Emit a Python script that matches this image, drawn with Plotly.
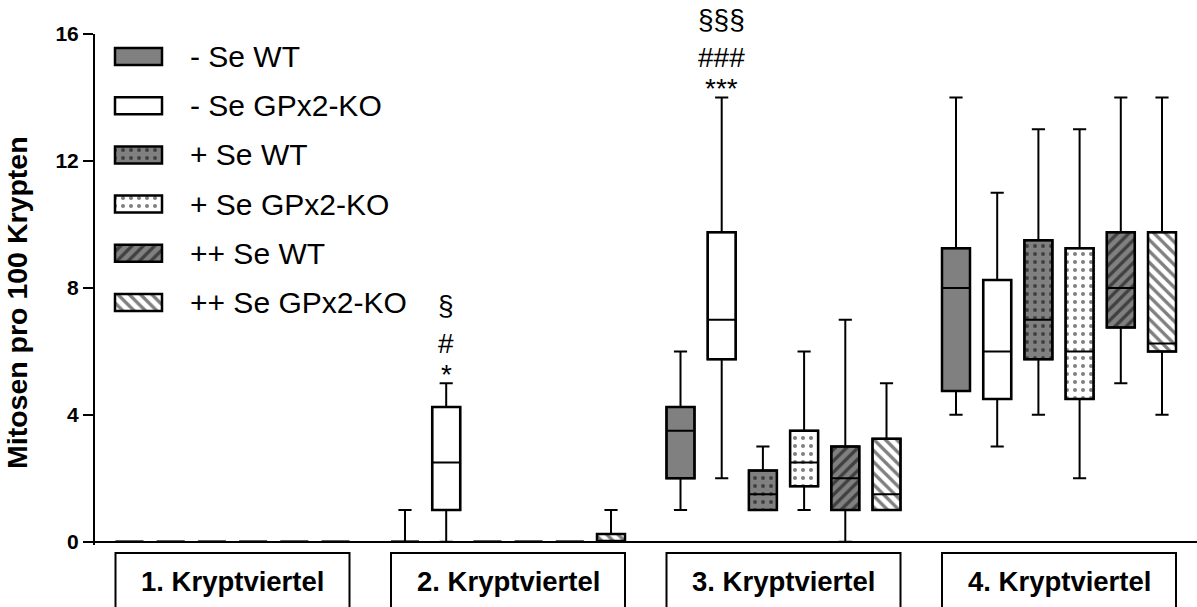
import plotly.graph_objects as go

# ---------------- data ----------------
GROUPS = ["1. Kryptviertel", "2. Kryptviertel", "3. Kryptviertel", "4. Kryptviertel"]
SERIES = ["- Se WT", "- Se GPx2-KO", "+ Se WT", "+ Se GPx2-KO", "++ Se WT", "++ Se GPx2-KO"]

# box statistics per series, one value per crypt quarter
minus_wt_min = [0, 0, 1, 4]
minus_wt_q1 = [0, 0, 2, 4.75]
minus_wt_med = [0, 0, 3.5, 8]
minus_wt_q3 = [0, 0, 4.25, 9.25]
minus_wt_max = [0, 1, 6, 14]

minus_ko_min = [0, 0, 2, 3]
minus_ko_q1 = [0, 1, 5.75, 4.5]
minus_ko_med = [0, 2.5, 7, 6]
minus_ko_q3 = [0, 4.25, 9.75, 8.25]
minus_ko_max = [0, 5, 14, 11]

plus_wt_min = [0, 0, 1, 4]
plus_wt_q1 = [0, 0, 1, 5.75]
plus_wt_med = [0, 0, 1.5, 7]
plus_wt_q3 = [0, 0, 2.25, 9.5]
plus_wt_max = [0, 0, 3, 13]

plus_ko_min = [0, 0, 1, 2]
plus_ko_q1 = [0, 0, 1.75, 4.5]
plus_ko_med = [0, 0, 2.5, 6]
plus_ko_q3 = [0, 0, 3.5, 9.25]
plus_ko_max = [0, 0, 6, 13]

pp_wt_min = [0, 0, 0, 5]
pp_wt_q1 = [0, 0, 1, 6.75]
pp_wt_med = [0, 0, 2, 8]
pp_wt_q3 = [0, 0, 3, 9.75]
pp_wt_max = [0, 0, 7, 14]

pp_ko_min = [0, 0, 1, 4]
pp_ko_q1 = [0, 0, 1, 6]
pp_ko_med = [0, 0, 1.5, 6.25]
pp_ko_q3 = [0, 0.25, 3.25, 9.75]
pp_ko_max = [0, 1, 5, 14]

Y_TICKS = [0, 4, 8, 12, 16]
Y_TITLE = "Mitosen pro 100 Krypten"

# significance markers: (group index, series index, lines bottom->top)
SIGNIF = [
    (1, 1, ["*", "#", "§"]),
    (2, 1, ["***", "###", "§§§"]),
]

STATS = [
    (minus_wt_min, minus_wt_q1, minus_wt_med, minus_wt_q3, minus_wt_max),
    (minus_ko_min, minus_ko_q1, minus_ko_med, minus_ko_q3, minus_ko_max),
    (plus_wt_min, plus_wt_q1, plus_wt_med, plus_wt_q3, plus_wt_max),
    (plus_ko_min, plus_ko_q1, plus_ko_med, plus_ko_q3, plus_ko_max),
    (pp_wt_min, pp_wt_q1, pp_wt_med, pp_wt_q3, pp_wt_max),
    (pp_ko_min, pp_ko_q1, pp_ko_med, pp_ko_q3, pp_ko_max),
]

# ---------------- styles / layout geometry ----------------
FONT = "Liberation Sans, Arial, sans-serif"
GRAY = "#808080"
FILLS = [GRAY, "white", GRAY, "white", GRAY, "white"]
PATTERNS = ["", "", ".", ".", "/", "\\"]

W, H = 1197, 607
X0, X1 = 95, 1197          # plot area horizontal extent (px)
TOP, BOT = 34, 545         # plot area vertical extent (px)
GROUP_MID0, GROUP_STEP = 232.5, 275.5
BOX_STEP, BOX_W = 41.2, 28


def xpos(g, s):
    return GROUP_MID0 + g * GROUP_STEP + (s - 2.5) * BOX_STEP


def ypaper(px):
    return (BOT - px) / (BOT - TOP)


def xpaper(px):
    return (px - X0) / (X1 - X0)


def pattern(s, size=8):
    shp = PATTERNS[s]
    if not shp:
        return dict(shape="")
    sol = 0.2 if shp == "." else 0.42
    return dict(shape=shp, fgcolor="black", bgcolor=FILLS[s], size=size, solidity=sol)


fig = go.Figure()

for s, (mn, q1, md, q3, mx) in enumerate(STATS):
    xs = [xpos(g, s) for g in range(len(GROUPS))]
    fig.add_trace(go.Bar(
        x=xs, base=q1, y=[b - a for a, b in zip(q1, q3)], width=BOX_W,
        marker=dict(color=FILLS[s], line=dict(color="black", width=2.5), pattern=pattern(s)),
        showlegend=False, hoverinfo="skip", xaxis="x", yaxis="y",
    ))
    fig.add_trace(go.Box(
        x=xs, q1=q1, median=md, q3=q3, lowerfence=mn, upperfence=mx,
        width=BOX_W, whiskerwidth=0.47, fillcolor="rgba(0,0,0,0)",
        line=dict(color="black", width=2), boxpoints=False,
        showlegend=False, hoverinfo="skip", xaxis="x", yaxis="y",
    ))

# custom legend (large swatches) drawn on a pixel-space overlay axis
LEG_X, LEG_SW_W, LEG_SW_H = 138.5, 47, 17
LEG_Y0, LEG_DY = 56.5, 49.2
LEG_TX = 188
annotations = []
for s, name in enumerate(SERIES):
    yc = LEG_Y0 + s * LEG_DY
    fig.add_trace(go.Bar(
        x=[LEG_X], base=[yc - LEG_SW_H / 2], y=[LEG_SW_H], width=LEG_SW_W,
        marker=dict(color=FILLS[s], line=dict(color="black", width=2.5), pattern=pattern(s, 8)),
        showlegend=False, hoverinfo="skip", xaxis="x", yaxis="y2",
    ))
    annotations.append(dict(
        x=LEG_TX, y=yc, xref="x", yref="y2", text=name, showarrow=False,
        xanchor="left", yanchor="middle", font=dict(family=FONT, size=30, color="black"),
    ))

# significance markers
SIG_SHIFT = {0: 9, 1: 40, 2: 78}
for g, s, lines in SIGNIF:
    top = STATS[s][4][g]
    for i, txt in enumerate(lines):
        annotations.append(dict(
            x=xpos(g, s), y=top, xref="x", yref="y", text=txt, showarrow=False,
            xanchor="center", yanchor="middle", yshift=SIG_SHIFT[i],
            font=dict(family=FONT, size=28, color="black"),
        ))

# group label boxes
shapes = []
LBL_HALF_W = 117
for g, lab in enumerate(GROUPS):
    xm = xpos(g, 2.5)
    shapes.append(dict(
        type="rect", xref="x", yref="paper", x0=xm - LBL_HALF_W, x1=xm + LBL_HALF_W,
        y0=ypaper(553), y1=ypaper(630), line=dict(color="black", width=2), fillcolor="rgba(0,0,0,0)",
    ))
    annotations.append(dict(
        x=xm, y=ypaper(581), xref="x", yref="paper", text="<b>" + lab + "</b>", showarrow=False,
        xanchor="center", yanchor="middle", font=dict(family=FONT, size=27.5, color="black"),
    ))

# y-axis title
annotations.append(dict(
    x=xpaper(17.5), y=ypaper(302.5), xref="paper", yref="paper", text="<b>" + Y_TITLE + "</b>",
    showarrow=False, textangle=-90, xanchor="center", yanchor="middle",
    font=dict(family=FONT, size=28.5, color="black"),
))

fig.update_layout(
    width=W, height=H, autosize=False,
    margin=dict(l=X0, r=W - X1, t=TOP, b=H - BOT),
    paper_bgcolor="white", plot_bgcolor="white",
    barmode="overlay", boxmode="overlay", showlegend=False,
    xaxis=dict(range=[X0, X1], visible=False, showgrid=False, zeroline=False),
    yaxis=dict(
        range=[-0.1, 16], tickvals=Y_TICKS, showgrid=False,
        zeroline=True, zerolinecolor="black", zerolinewidth=2,
        showline=True, linecolor="black", linewidth=2,
        ticks="outside", ticklen=10, tickwidth=2, tickcolor="black",
        tickfont=dict(family=FONT, size=21, color="black", weight="bold"),
    ),
    yaxis2=dict(range=[BOT, TOP], overlaying="y", anchor="x", visible=False),
    shapes=shapes, annotations=annotations,
)

fig.write_html("out.html", config={"displayModeBar": False},
               post_script="document.body.style.margin='0';")
